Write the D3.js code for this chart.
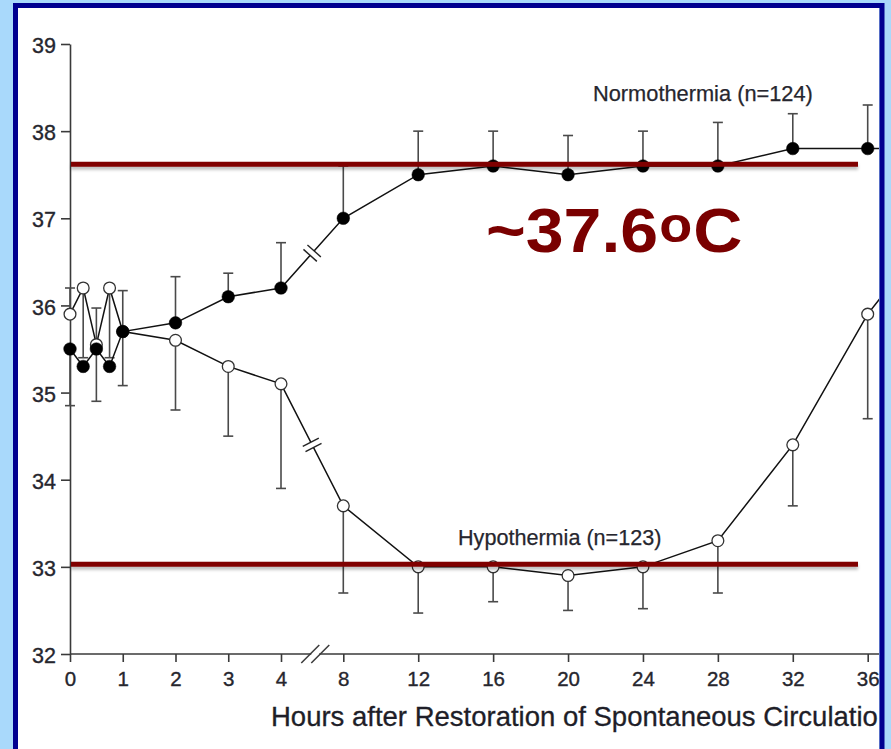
<!DOCTYPE html>
<html><head><meta charset="utf-8">
<script src="https://cdn.jsdelivr.net/npm/d3@7"></script>
<style>
html,body{margin:0;padding:0;background:#a9d9fb;overflow:hidden;}
svg{display:block;}
</style></head><body>
<svg id="chart" width="891" height="749"></svg>
<script>
// ---- data ----
const hours    = [0, 0.25, 0.5, 0.75, 1, 2, 3, 4, 8, 12, 16, 20, 24, 28, 32, 36, 40];
const normo    = [35.5, 35.3, 35.5, 35.3, 35.7, 35.8, 36.1, 36.2, 37.0, 37.5, 37.6, 37.5, 37.6, 37.6, 37.8, 37.8, 37.8];
const normoBar = [34.85, null, 35.97, null, 36.17, 36.33, 36.37, 36.72, 37.6, 38.0, 38.0, 37.95, 38.0, 38.1, 38.2, 38.3, null];
const hypo     = [35.9, 36.2, 35.55, 36.2, 35.7, 35.6, 35.3, 35.1, 33.7, 33.0, 33.0, 32.9, 33.0, 33.3, 34.4, 35.9, 37.0];
const hypoBar  = [36.2, 35.4, 34.9, 35.4, 35.08, 34.8, 34.5, 33.9, 32.7, 32.47, 32.6, 32.5, 32.52, 32.7, 33.7, 34.7, null];
const xTicks   = [0, 1, 2, 3, 4, 8, 12, 16, 20, 24, 28, 32, 36];
const yTicks   = [32, 33, 34, 35, 36, 37, 38, 39];
const refTemps = [37.62, 33.03];
const seriesLabels = ["Normothermia (n=124)", "Hypothermia (n=123)"];
const axisTitle = "Hours after Restoration of Spontaneous Circulation";
const callout = ["~37.6", "o", "C"];

// ---- layout ----
const svg = d3.select("#chart");
const x = d3.scaleLinear().domain([0, 4, 8, 36]).range([70, 281, 343.3, 867.7]);
const y = d3.scaleLinear().domain([32, 39]).range([654, 44]);

const defs = svg.append("defs");
defs.append("clipPath").attr("id", "inner")
  .append("rect").attr("x", 18).attr("y", 8).attr("width", 861).attr("height", 741);
const f = defs.append("filter").attr("id", "shadow")
  .attr("x", "-5%").attr("y", "-150%").attr("width", "110%").attr("height", "400%");
f.append("feDropShadow").attr("dx", 0).attr("dy", 3).attr("stdDeviation", 1.6)
  .attr("flood-color", "#000").attr("flood-opacity", 0.25);

// white panel
svg.append("rect").attr("x", 18).attr("y", 8).attr("width", 861).attr("height", 760).attr("fill", "#fff");

const g = svg.append("g").attr("clip-path", "url(#inner)");
const font = "'Liberation Sans', Arial, Helvetica, sans-serif";
const txt = "#26262e";

// y axis
const yAxis = g.append("g").attr("transform", "translate(70,0)")
  .call(d3.axisLeft(y).tickValues(yTicks).tickFormat(d3.format("d"))
    .tickSize(9).tickSizeOuter(0).tickPadding(5));
yAxis.attr("font-family", null).attr("font-size", null);
yAxis.select(".domain").attr("stroke", "#3a3a3a").attr("stroke-width", 1.6);
yAxis.selectAll(".tick line").attr("stroke", "#3a3a3a").attr("stroke-width", 1.6);
yAxis.selectAll(".tick text").attr("font-family", font).attr("font-size", 21.5)
  .attr("fill", txt).attr("stroke", txt).attr("stroke-width", 0.35).attr("dy", "0.4em");

// x axis
const xAxis = g.append("g").attr("transform", "translate(0,654)")
  .call(d3.axisBottom(x).tickValues(xTicks).tickFormat(d3.format("d"))
    .tickSize(8).tickSizeOuter(0).tickPadding(9));
xAxis.attr("font-family", null).attr("font-size", null);
xAxis.select(".domain").remove();
xAxis.selectAll(".tick line").attr("stroke", "#3a3a3a").attr("stroke-width", 1.6);
xAxis.selectAll(".tick text").attr("font-family", font).attr("font-size", 20.5)
  .attr("fill", txt).attr("stroke", txt).attr("stroke-width", 0.35);
xAxis.append("line").attr("x1", x(0)).attr("x2", 890).attr("y1", 0).attr("y2", 0)
  .attr("stroke", "#3a3a3a").attr("stroke-width", 1.6);
// axis break
const xb = x(4) + (x(8) - x(4)) * 0.55;
xAxis.append("rect").attr("x", xb - 4).attr("y", -2).attr("width", 8).attr("height", 4).attr("fill", "#fff");
[-5, 5].forEach(o => {
  xAxis.append("line").attr("x1", xb + o - 9).attr("y1", 9).attr("x2", xb + o + 9).attr("y2", -9)
    .attr("stroke", "#3a3a3a").attr("stroke-width", 1.5);
});

// axis title (cut by the frame, as in the reference)
g.append("text").attr("x", 271).attr("y", 726).attr("font-family", font).attr("font-size", 27.5)
  .attr("fill", "#1e1e28").attr("stroke", "#1e1e28").attr("stroke-width", 0.3).text(axisTitle);

// series (hypothermia first so filled markers sit on top)
const series = [
  { vals: hypo, bars: hypoBar, filled: false },
  { vals: normo, bars: normoBar, filled: true }
];

// error bars
series.forEach(s => {
  const eb = g.append("g").attr("stroke", "#4a4a4a").attr("stroke-width", 1.6);
  hours.forEach((h, i) => {
    const b = s.bars[i];
    if (b == null) return;
    eb.append("line").attr("x1", x(h)).attr("x2", x(h)).attr("y1", y(s.vals[i])).attr("y2", y(b));
    eb.append("line").attr("x1", x(h) - 5).attr("x2", x(h) + 5).attr("y1", y(b)).attr("y2", y(b));
  });
});

// lines
const line = d3.line().x((d, i) => x(hours[i])).y(d => y(d));
series.forEach(s => {
  g.append("path").datum(s.vals).attr("d", line).attr("fill", "none")
    .attr("stroke", "#111").attr("stroke-width", 1.5);
  // break marks between hour 4 and 8
  const i4 = hours.indexOf(4), i8 = hours.indexOf(8);
  const p1 = [x(4), y(s.vals[i4])], p2 = [x(8), y(s.vals[i8])];
  const dx = p2[0] - p1[0], dy = p2[1] - p1[1], L = Math.hypot(dx, dy);
  const u = [dx / L, dy / L], n = [-u[1], u[0]];
  const m = [(p1[0] + p2[0]) / 2, (p1[1] + p2[1]) / 2];
  g.append("line").attr("x1", m[0] - u[0] * 3).attr("y1", m[1] - u[1] * 3)
    .attr("x2", m[0] + u[0] * 3).attr("y2", m[1] + u[1] * 3)
    .attr("stroke", "#fff").attr("stroke-width", 4);
  [-3, 3].forEach(o => {
    const c = [m[0] + u[0] * o, m[1] + u[1] * o];
    g.append("line").attr("x1", c[0] - n[0] * 9).attr("y1", c[1] - n[1] * 9)
      .attr("x2", c[0] + n[0] * 9).attr("y2", c[1] + n[1] * 9)
      .attr("stroke", "#222").attr("stroke-width", 1.4);
  });
});

// markers
series.forEach(s => {
  g.append("g").selectAll("circle").data(s.vals).join("circle")
    .attr("cx", (d, i) => x(hours[i])).attr("cy", d => y(d))
    .attr("r", s.filled ? 6.3 : 5.9)
    .attr("fill", s.filled ? "#000" : "#fff")
    .attr("stroke", s.filled ? "#000" : "#333")
    .attr("stroke-width", s.filled ? 0.5 : 1.3);
});

// reference lines (as thin rects so the shadow filter has a box)
refTemps.forEach(t => {
  g.append("rect").attr("x", 71).attr("width", 858 - 71).attr("y", y(t) - 2.5).attr("height", 5)
    .attr("fill", "#800000").attr("filter", "url(#shadow)");
});

// series labels
g.append("text").attr("x", 593).attr("y", 101).attr("font-family", font).attr("font-size", 21.8)
  .attr("fill", txt).attr("stroke", txt).attr("stroke-width", 0.25).text(seriesLabels[0]);
g.append("text").attr("x", 458).attr("y", 545).attr("font-family", font).attr("font-size", 21.6)
  .attr("fill", txt).attr("stroke", txt).attr("stroke-width", 0.25).text(seriesLabels[1]);

// callout
const ct = g.append("text").attr("transform", "translate(486,252) scale(1.08,1)")
  .attr("font-family", font).attr("font-size", 63).attr("font-weight", "bold").attr("fill", "#7a0000");
ct.append("tspan").text(callout[0]);
ct.append("tspan").attr("font-size", 50).attr("dy", -10).attr("dx", 1).text(callout[1]);
ct.append("tspan").attr("dy", 10).attr("dx", 1).text(callout[2]);

// frame
svg.append("rect").attr("x", 15.5).attr("y", 5.5).attr("width", 866.5).attr("height", 800)
  .attr("fill", "none").attr("stroke", "#000090").attr("stroke-width", 5);
</script>
</body></html>
